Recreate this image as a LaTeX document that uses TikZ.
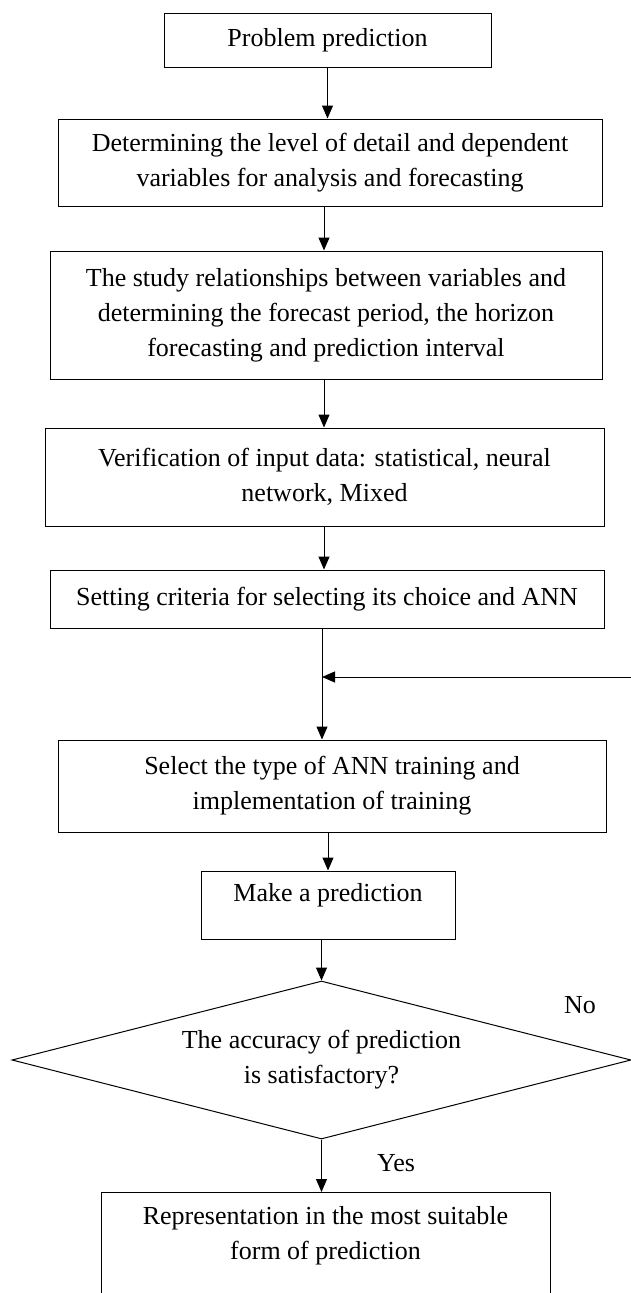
\documentclass[tikz,border=0pt]{standalone}
\usepackage{fontspec}
\setmainfont{Liberation Serif}
\usetikzlibrary{arrows.meta,shapes.geometric}
\begin{document}
\begin{tikzpicture}[x=1pt,y=-1pt,
  every node/.style={font=\fontsize{26}{35}\selectfont},
  box/.style={draw, line width=1pt, rectangle, align=center, inner sep=0pt},
  sbox/.style={draw, line width=1pt, rectangle, inner sep=0pt},
  dec/.style={draw, line width=1pt, diamond, aspect=3.9, inner sep=0pt, align=center, minimum width=619pt, minimum height=158pt},
  arr/.style={line width=1pt, -{Triangle[length=13pt,width=11pt]}},
  lbl/.style={inner sep=0pt}]
\useasboundingbox (0,0) rectangle (631,1293);
\node[sbox, minimum width=327pt, minimum height=54pt] (b1) at (327.5,40) {Problem prediction};
\node[box, minimum width=544pt, minimum height=87pt] (b2) at (330,162.5) {Determining the level of detail and dependent\\variables for analysis and forecasting};
\node[box, minimum width=552pt, minimum height=128pt] (b3) at (326,315) {The study relationships between variables and\\determining the forecast period, the horizon\\forecasting and prediction interval};
\node[box, minimum width=559pt, minimum height=98pt] (b4) at (324.5,477) {Verification of input data: statistical, neural\\network, Mixed};
\node[sbox, minimum width=554pt, minimum height=58pt] (b5) at (327,599) {Setting criteria for selecting its choice and ANN};
\node[box, minimum width=548pt, minimum height=92pt] (b6) at (332,786) {Select the type of ANN training and\\implementation of training};
\node[sbox, minimum width=254pt, minimum height=68pt, text depth=26pt] (b7) at (328,905) {Make a prediction};
\node[dec] (d) at (321.5,1060) {The accuracy of prediction\\is satisfactory?};
\node[sbox, anchor=north, minimum width=449pt, minimum height=140pt] (b8) at (325.5,1192) {};
\node[lbl, align=center] (b8t) at (325.5,1235.5) {Representation in the most suitable\\form of prediction};
\node[lbl] (no) at (580,1005) {No};
\node[lbl] (yes) at (396,1163) {Yes};
\coordinate (col) at (324,0);
\coordinate (col2) at (322,0);
\coordinate (fbR) at (631,677);
\draw[arr] (b1.south) -- (b1.south |- b2.north);
\draw[arr] (b2.south -| col) -- (b3.north -| col);
\draw[arr] (b3.south -| col) -- (b4.north -| col);
\draw[arr] (b4.south -| col) -- (b5.north -| col);
\draw[arr] (b5.south -| col2) -- (b6.north -| col2);
\draw[arr] (fbR) -- (fbR -| col2);
\draw[arr] (b6.south -| b7.north) -- (b7.north);
\draw[arr] (b7.south -| d.north) -- (d.north);
\draw[arr] (d.south) -- (d.south |- b8.north);
\end{tikzpicture}
\end{document}
